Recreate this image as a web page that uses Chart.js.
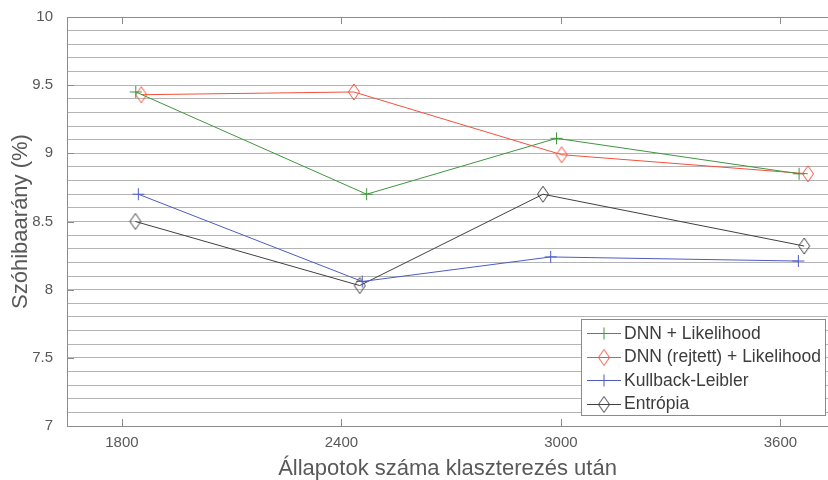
<!DOCTYPE html>
<html>
<head>
<meta charset="utf-8">
<script src="https://cdn.jsdelivr.net/npm/chart.js@4"></script>
<style>
  html, body { margin: 0; padding: 0; background: #fff; overflow: hidden; }
  #wrap { width: 828px; height: 480px; }
</style>
</head>
<body>
<div id="wrap"><canvas id="wer__chart" width="828" height="480"></canvas></div>
<script>
// series labels
var seriesNames = ['DNN + Likelihood', 'DNN (rejtett) + Likelihood', 'Kullback-Leibler', 'Entrópia'];

// x positions (state counts) and word error rates
var dnnX = [1838, 2469, 2988, 3651];
var dnnY = [9.45, 8.70, 9.11, 8.85];
var hiddenX = [1853, 2434, 3002, 3675];
var hiddenY = [9.43, 9.45, 8.99, 8.85];
var klX = [1845, 2457, 2972, 3649];
var klY = [8.70, 8.06, 8.24, 8.21];
var entX = [1837, 2450, 2951, 3665];
var entY = [8.50, 8.03, 8.70, 8.32];

var xTicks = [1800, 2400, 3000, 3600];
var yLabelStep = 0.5;

var fontFam = '"Liberation Sans", Arial, sans-serif';
var axisGray = '#8c8c8c';
var textGray = '#595959';

function pts(xs, ys) {
    return xs.map(function (x, i) { return { x: x, y: ys[i] }; });
}

// MATLAB style diamond (taller than wide)
function diamond(color) {
    var c = document.createElement('canvas');
    c.width = 14; c.height = 18;
    var g = c.getContext('2d');
    g.strokeStyle = color;
    g.lineWidth = 1;
    g.beginPath();
    g.moveTo(7, 1); g.lineTo(12.5, 9); g.lineTo(7, 17); g.lineTo(1.5, 9);
    g.closePath();
    g.stroke();
    return c;
}

var colors = ['#3f963f', '#f4503c', '#4d5bc4', '#404040'];

function ds(i, xs, ys, style) {
    return {
        label: seriesNames[i],
        data: pts(xs, ys),
        showLine: true,
        borderColor: colors[i],
        backgroundColor: colors[i],
        borderWidth: 1,
        pointStyle: style,
        pointRadius: 6,
        pointBorderWidth: 1,
        pointBorderColor: colors[i],
        pointHoverRadius: 6
    };
}

var insideTicks = {
    id: 'insideTicks',
    afterDraw: function (chart) {
        var ctx = chart.ctx, a = chart.chartArea;
        var xs = chart.scales.x, ys = chart.scales.y;
        ctx.save();
        ctx.strokeStyle = axisGray;
        ctx.lineWidth = 1;
        ctx.beginPath();
        // top frame line
        ctx.moveTo(a.left, a.top + 0.5); ctx.lineTo(a.right, a.top + 0.5);
        xTicks.forEach(function (v) {
            var px = Math.round(xs.getPixelForValue(v)) + 0.5;
            ctx.moveTo(px, a.bottom); ctx.lineTo(px, a.bottom - 7);
            ctx.moveTo(px, a.top); ctx.lineTo(px, a.top + 7);
        });
        for (var v = ys.min; v <= ys.max + 1e-9; v += yLabelStep) {
            var py = Math.round(ys.getPixelForValue(v)) + 0.5;
            ctx.moveTo(a.left, py); ctx.lineTo(a.left + 7, py);
        }
        ctx.stroke();
        ctx.restore();
    }
};

var boxLegend = {
    id: 'boxLegend',
    afterDraw: function (chart) {
        var ctx = chart.ctx;
        var bx = 581, by = 319, bw = 244, bh = 96, row = 23.5;
        ctx.save();
        ctx.fillStyle = '#fff';
        ctx.fillRect(bx, by, bw, bh);
        ctx.strokeStyle = '#8a8a8a';
        ctx.lineWidth = 1;
        ctx.strokeRect(bx + 0.5, by + 0.5, bw, bh);
        ctx.font = '17.5px ' + fontFam;
        ctx.textBaseline = 'middle';
        chart.data.datasets.forEach(function (d, i) {
            var y = by + 14 + i * row;
            ctx.strokeStyle = d.borderColor;
            ctx.beginPath();
            ctx.moveTo(bx + 6, Math.round(y) + 0.5);
            ctx.lineTo(bx + 40, Math.round(y) + 0.5);
            ctx.stroke();
            Chart.helpers.drawPoint(ctx, {
                pointStyle: d.pointStyle, radius: 6, borderWidth: 1, rotation: 0
            }, bx + 23, Math.round(y) + 0.5);
            ctx.fillStyle = '#3c3c3c';
            ctx.fillText(d.label, bx + 43, y + 1);
        });
        ctx.restore();
    }
};

var ctx = document.getElementById('wer__chart').getContext('2d');
var werChart = new Chart(ctx, {
    type: 'scatter',
    data: {
        datasets: [
            ds(0, dnnX, dnnY, 'cross'),
            ds(1, hiddenX, hiddenY, diamond(colors[1])),
            ds(2, klX, klY, 'cross'),
            ds(3, entX, entY, diamond(colors[3]))
        ]
    },
    options: {
        responsive: false,
        animation: false,
        layout: { autoPadding: false, padding: { top: 17, right: 0, left: 0, bottom: 0 } },
        plugins: {
            legend: { display: false },
            tooltip: { enabled: false }
        },
        scales: {
            x: {
                type: 'linear',
                min: 1650,
                max: 3730,
                afterBuildTicks: function (s) {
                    s.ticks = xTicks.map(function (v) { return { value: v }; });
                },
                afterFit: function (s) {
                    s.height = 54;
                    s.paddingLeft = 0; s.paddingRight = 0;
                },
                grid: { display: false, drawTicks: false },
                border: { display: true, color: axisGray, width: 1 },
                ticks: {
                    padding: 8,
                    color: textGray,
                    font: { family: fontFam, size: 15 },
                    maxRotation: 0,
                    callback: function (v) { return String(v); }
                },
                title: {
                    display: true,
                    text: 'Állapotok száma klaszterezés után',
                    color: textGray,
                    font: { family: fontFam, size: 22 },
                    padding: { top: 0, bottom: -2 }
                }
            },
            y: {
                min: 7,
                max: 10,
                afterFit: function (s) {
                    s.width = 67;
                    s.paddingTop = 0; s.paddingBottom = 0;
                },
                grid: { color: '#b4b4b4', lineWidth: 1, drawTicks: false },
                border: { display: true, color: axisGray, width: 1 },
                ticks: {
                    stepSize: 0.1,
                    autoSkip: false,
                    padding: 14,
                    color: textGray,
                    font: { family: fontFam, size: 15 },
                    callback: function (v) {
                        var t = Math.round(v * 10);
                        return t % 5 === 0 ? String(t / 10) : '';
                    }
                },
                title: {
                    display: true,
                    text: 'Szóhibaarány (%)',
                    color: textGray,
                    font: { family: fontFam, size: 22 },
                    padding: { top: 8, bottom: 0 }
                }
            }
        }
    },
    plugins: [insideTicks, boxLegend]
});
</script>
</body>
</html>
